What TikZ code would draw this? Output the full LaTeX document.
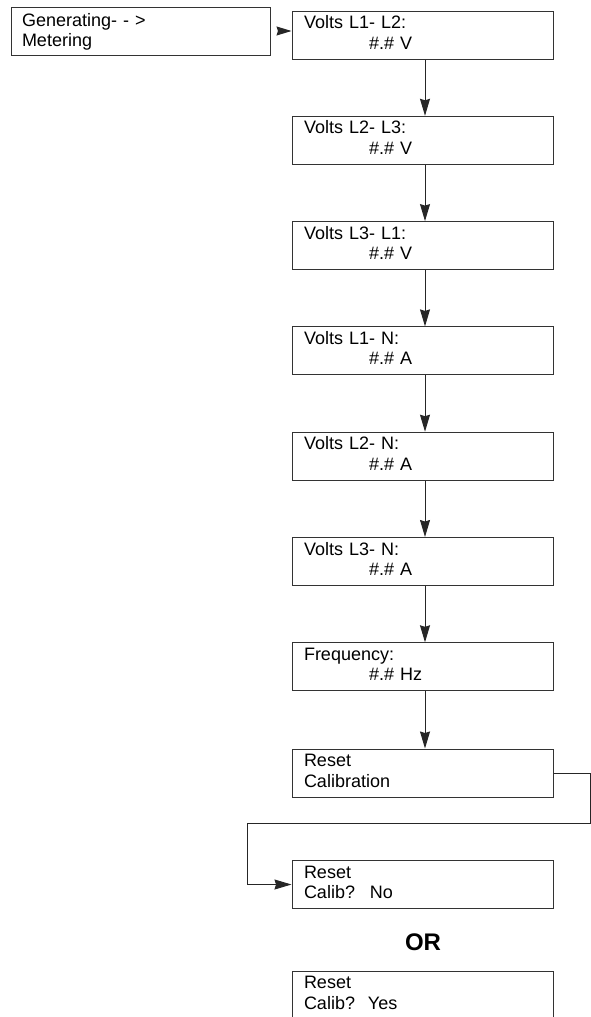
\documentclass[tikz,border=0pt]{standalone}
\usepackage{fontspec}
\setmainfont{Liberation Sans}
\usetikzlibrary{arrows.meta, calc}

% two text lines of one display screen
\newcommand{\screentext}[2]{\rule{0pt}{17.5pt}#1\\#2\rule[-10pt]{0pt}{10pt}}

\begin{document}
\begin{tikzpicture}[x=1pt, y=-1pt,
    screen/.style={draw=black!80, line width=1pt, rectangle,
        minimum width=261pt, minimum height=48pt, text width=237pt,
        inner xsep=12pt, inner ysep=0pt, align=left,
        font=\fontsize{18}{20.5}\selectfont},
    flow/.style={draw=black!85, line width=1pt,
        -{Stealth[length=17pt, width=10pt, inset=1.5pt]}}]
    \clip (0,0) rectangle (591,1017);

    % Menu entry
    \node[screen, minimum width=259pt, inner xsep=11pt] (gen) at (140.5,31)
        {\rule{0pt}{19pt}Generating- - >\\Metering\rule[-8.5pt]{0pt}{8.5pt}};

    % Metering screens
    \foreach \i/\first/\second in {1/{Volts L1- L2:}/{\#.\# V},
                                   2/{Volts L2- L3:}/{\#.\# V},
                                   3/{Volts L3- L1:}/{\#.\# V},
                                   4/{Volts L1- N:}/{\#.\# A},
                                   5/{Volts L2- N:}/{\#.\# A},
                                   6/{Volts L3- N:}/{\#.\# A},
                                   7/{Frequency:}/{\#.\# Hz}} {
        \node[screen] (m\i) at (422.5,{35+105.3*(\i-1)})
            {\screentext{\first}{\hspace*{65pt}\second}};
    }
    \node[screen] (reset) at (422.5,773) {\screentext{Reset}{Calibration}};
    \node[screen] (calno) at (422.5,884.5) {\screentext{Reset}{\makebox[66pt][l]{Calib?}No}};
    \node[font=\bfseries\fontsize{24}{28}\selectfont, anchor=base] (or) at (423,950) {OR};
    \node[screen] (calyes) at (422.5,995) {\screentext{Reset}{\makebox[64pt][l]{Calib?}Yes}};

    % Arrows down the column
    \draw[flow, shorten <=7pt, -{Stealth[length=15pt, width=9pt, inset=1.5pt]}]
        (gen.east) -- ([yshift=4pt]m1.west);
    \foreach \i [evaluate=\i as \j using int(\i+1)] in {1,...,6} {
        \draw[flow] ([xshift=2.5pt]m\i.south) -- ([xshift=2.5pt]m\j.north);
    }
    \draw[flow] ([xshift=2.5pt]m7.south) -- ([xshift=2.5pt]reset.north);

    % Loop round to the confirm screen
    \coordinate (loopR) at (590,823);
    \coordinate (loopL) at (247,823);
    \draw[flow] (reset.east) -| (loopR) -- (loopL) |- (calno.west);
\end{tikzpicture}
\end{document}
